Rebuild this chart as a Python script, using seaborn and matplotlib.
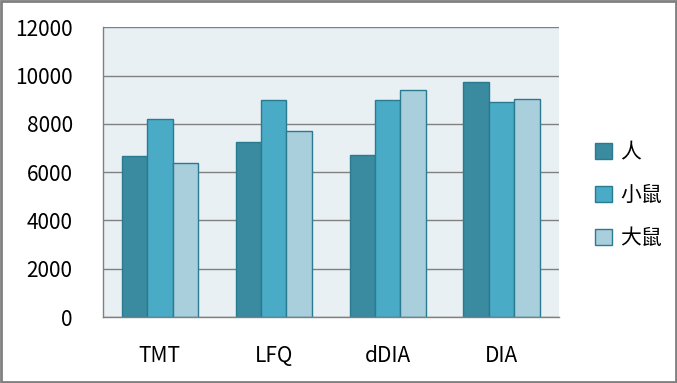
import pandas as pd
import seaborn as sns
import matplotlib.pyplot as plt
from matplotlib.patches import Rectangle

methods = ['TMT', 'LFQ', 'dDIA', 'DIA']
species = ['人', '小鼠', '大鼠']
human = [6650, 7240, 6700, 9720]
mouse = [8190, 8980, 8980, 8890]
rat = [6370, 7690, 9390, 9020]
colors = ['#3a8aa0', '#4aabc6', '#a9cedc']

df = pd.DataFrame({
    'method': methods * 3,
    'species': [s for s in species for _ in methods],
    'count': human + mouse + rat,
})

sns.set_style('white')
plt.rcParams['font.family'] = ['Noto Sans CJK SC', 'DejaVu Sans']
plt.rcParams['font.weight'] = 'medium'
plt.rcParams['text.color'] = 'black'
plt.rcParams['xtick.color'] = 'black'
plt.rcParams['ytick.color'] = 'black'

fig = plt.figure(figsize=(6.77, 3.83), dpi=100)
ax = fig.add_axes([0.152, 0.172, 0.673, 0.757])
ax.set_facecolor('#e8f0f4')

sns.barplot(data=df, x='method', y='count', hue='species', order=methods,
            hue_order=species, palette=colors, width=0.67, ax=ax,
            edgecolor='#2a7a90', linewidth=1, saturation=1)

ax.set_ylim(0, 12000)
ax.set_yticks(range(0, 12001, 2000))
ax.set_xlim(-0.5, 3.5)
ax.yaxis.grid(True, color='#808080', linewidth=1)
ax.set_axisbelow(True)
ax.set_xlabel('')
ax.set_ylabel('')

ax.set_xticks([-0.5, 0.5, 1.5, 2.5, 3.5], minor=True)
ax.tick_params(axis='x', which='minor', length=7.2, width=1, color='#808080', direction='out')
ax.tick_params(axis='x', which='major', length=0, pad=20, labelsize=15)
ax.tick_params(axis='y', length=5.8, width=1, color='#808080', direction='out', pad=16, labelsize=15)

for side in ['top', 'right']:
    ax.spines[side].set_visible(False)
for side in ['left', 'bottom']:
    ax.spines[side].set_color('#808080')
    ax.spines[side].set_linewidth(1)

ax.legend(loc='center left', bbox_to_anchor=(1.04, 0.42), frameon=False,
          fontsize=15, handlelength=0.77, handleheight=0.77, labelspacing=1.0,
          handletextpad=0.4)

fig.patches.append(Rectangle((0.0015, 0.0025), 0.997, 0.995, transform=fig.transFigure,
                             fill=False, edgecolor='#808080', linewidth=2))

fig.savefig('out.png', dpi=100)
